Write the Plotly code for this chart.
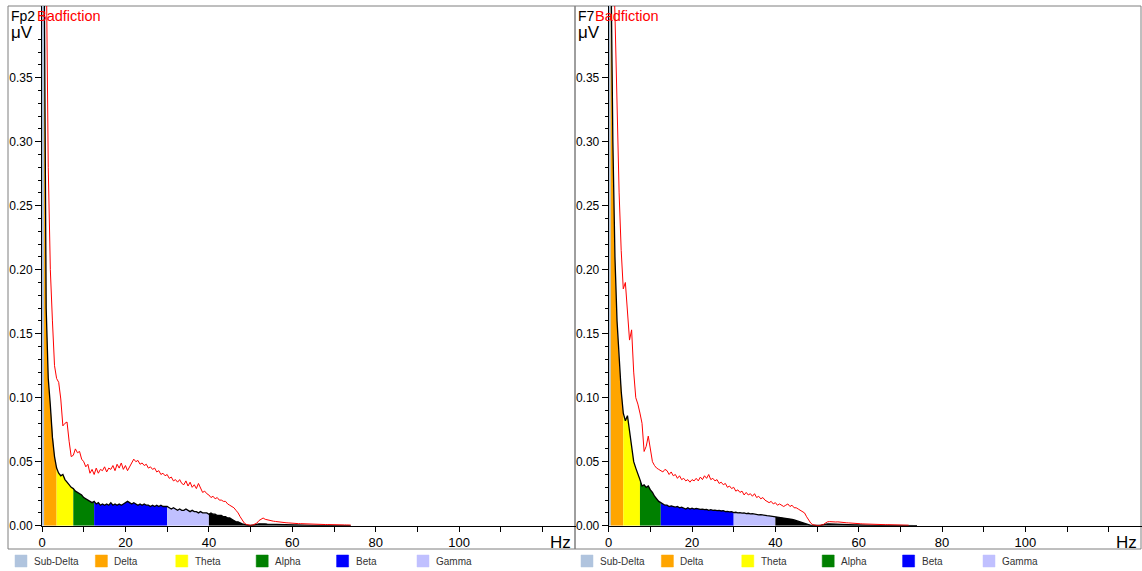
import plotly.graph_objects as go

# ---------------- data ----------------
FREQ_STEP_HZ = 0.5
N_BINS = 149                      # 0 .. 74 Hz
FREQ_HZ = [i * FREQ_STEP_HZ for i in range(N_BINS)]

CHANNELS = ["Fp2", "F7"]
COMPARE_LABEL = "Badfiction"

# spectrum of the recording (black outline, band-coloured fill), µV
PSD_FP2 = [
    0.45, 0.45, 0.17, 0.115, 0.094, 0.069, 0.054, 0.045, 0.041, 0.039,
    0.040, 0.036, 0.034, 0.032, 0.030, 0.029, 0.027, 0.026, 0.025, 0.024,
    0.022, 0.021, 0.020, 0.019, 0.018, 0.019, 0.017, 0.018, 0.016, 0.017,
    0.016, 0.017, 0.016, 0.018, 0.016, 0.017, 0.016, 0.017, 0.016, 0.017,
    0.018, 0.019, 0.018, 0.017, 0.018, 0.017, 0.016, 0.017, 0.016, 0.017,
    0.016, 0.016, 0.015, 0.016, 0.015, 0.016, 0.015, 0.016, 0.015, 0.015,
    0.015, 0.014, 0.013, 0.014, 0.013, 0.012, 0.013, 0.012, 0.012, 0.013,
    0.012, 0.011, 0.012, 0.011, 0.011, 0.010, 0.011, 0.010, 0.010, 0.010,
    0.009, 0.010, 0.009, 0.009, 0.008, 0.008, 0.008, 0.007, 0.007, 0.006,
    0.006, 0.005, 0.004, 0.003, 0.003, 0.002, 0.0015, 0.001, 0.0005, 0.0003,
    0.0003, 0.0004, 0.0006, 0.0010, 0.0015, 0.0016, 0.0015, 0.0014, 0.0013, 0.0012,
    0.0012, 0.0011, 0.0010, 0.0010, 0.0009, 0.0009, 0.0008, 0.0008, 0.0007, 0.0007,
    0.0006, 0.0006, 0.0006, 0.0005, 0.0005, 0.0005, 0.0004, 0.0004, 0.0004, 0.0004,
    0.0003, 0.0003, 0.0003, 0.0003, 0.0003, 0.0002, 0.0002, 0.0002, 0.0002, 0.0002,
    0.0002, 0.0001, 0.0001, 0.0001, 0.0001, 0.0001, 0.0001, 0.0001, 0.0001,
]

# comparison spectrum "Badfiction" (red line), µV
BAD_FP2 = [
    0.45, 0.45, 0.45, 0.28, 0.20, 0.16, 0.125, 0.115, 0.112, 0.099,
    0.078, 0.080, 0.081, 0.066, 0.054, 0.055, 0.060, 0.057, 0.058, 0.052,
    0.050, 0.046, 0.048, 0.041, 0.044, 0.040, 0.045, 0.041, 0.044, 0.043,
    0.046, 0.042, 0.045, 0.044, 0.047, 0.043, 0.048, 0.045, 0.049, 0.044,
    0.047, 0.043, 0.046, 0.048, 0.052, 0.050, 0.051, 0.048, 0.049, 0.047,
    0.048, 0.045, 0.046, 0.044, 0.045, 0.042, 0.043, 0.040, 0.041, 0.039,
    0.040, 0.037, 0.038, 0.035, 0.036, 0.034, 0.036, 0.033, 0.032, 0.035,
    0.031, 0.034, 0.030, 0.032, 0.029, 0.033, 0.030, 0.026, 0.027, 0.025,
    0.024, 0.022, 0.023, 0.021, 0.022, 0.020, 0.020, 0.019, 0.019, 0.017,
    0.016, 0.015, 0.014, 0.012, 0.010, 0.007, 0.004, 0.002, 0.001, 0.0005,
    0.0003, 0.0005, 0.001, 0.002, 0.004, 0.005, 0.006, 0.005, 0.0045, 0.004,
    0.0038, 0.0035, 0.0033, 0.003, 0.0028, 0.0026, 0.0025, 0.0023, 0.0022, 0.002,
    0.0019, 0.0018, 0.0017, 0.0016, 0.0016, 0.0015, 0.0014, 0.0013, 0.0013, 0.0012,
    0.0012, 0.0011, 0.0011, 0.001, 0.001, 0.001, 0.0009, 0.0009, 0.0008, 0.0008,
    0.0008, 0.0007, 0.0007, 0.0007, 0.0006, 0.0006, 0.0006, 0.0005, 0.0005,
]

PSD_F7 = [
    0.45, 0.45, 0.30, 0.21, 0.16, 0.13, 0.105, 0.088, 0.082, 0.086,
    0.075, 0.062, 0.050, 0.045, 0.041, 0.036, 0.031, 0.032, 0.030, 0.031,
    0.028, 0.026, 0.023, 0.021, 0.019, 0.018, 0.017, 0.016, 0.016, 0.015,
    0.0155, 0.015, 0.0145, 0.015, 0.014, 0.0145, 0.014, 0.013, 0.014, 0.013,
    0.0137, 0.013, 0.0135, 0.013, 0.0128, 0.013, 0.0125, 0.0128, 0.012, 0.0125,
    0.012, 0.0122, 0.0118, 0.012, 0.0115, 0.0118, 0.011, 0.0112, 0.0108, 0.011,
    0.0102, 0.0105, 0.010, 0.0102, 0.0098, 0.010, 0.0095, 0.0097, 0.0092, 0.0094,
    0.009, 0.0088, 0.0085, 0.0087, 0.0082, 0.008, 0.0078, 0.0076, 0.0074, 0.0072,
    0.007, 0.0068, 0.0066, 0.0064, 0.0062, 0.006, 0.0058, 0.0055, 0.005, 0.0045,
    0.004, 0.0035, 0.003, 0.0022, 0.0015, 0.001, 0.0005, 0.0003, 0.0002, 0.0002,
    0.0002, 0.0003, 0.0005, 0.0008, 0.0012, 0.0014, 0.0014, 0.0013, 0.0013, 0.0012,
    0.0011, 0.0011, 0.001, 0.001, 0.0009, 0.0009, 0.0008, 0.0008, 0.0007, 0.0007,
    0.0006, 0.0006, 0.0005, 0.0005, 0.0005, 0.0004, 0.0004, 0.0004, 0.0003, 0.0003,
    0.0003, 0.0003, 0.0002, 0.0002, 0.0002, 0.0002, 0.0002, 0.0002, 0.0001, 0.0001,
    0.0001, 0.0001, 0.0001, 0.0001, 0.0001, 0.0001, 0.0001, 0.0001, 0.0001,
]

BAD_F7 = [
    0.45, 0.45, 0.45, 0.40, 0.33, 0.26, 0.215, 0.185, 0.19, 0.167,
    0.145, 0.153, 0.12, 0.10, 0.095, 0.088, 0.08, 0.058, 0.062, 0.07,
    0.06, 0.05, 0.047, 0.045, 0.044, 0.043, 0.042, 0.044, 0.043, 0.040,
    0.042, 0.039, 0.040, 0.037, 0.039, 0.036, 0.037, 0.035, 0.036, 0.034,
    0.036, 0.035, 0.037, 0.035, 0.038, 0.036, 0.039, 0.037, 0.040, 0.036,
    0.037, 0.035, 0.036, 0.033, 0.034, 0.032, 0.033, 0.030, 0.031, 0.029,
    0.030, 0.027, 0.028, 0.026, 0.027, 0.024, 0.026, 0.024, 0.025, 0.023,
    0.025, 0.022, 0.023, 0.021, 0.022, 0.020, 0.019, 0.018, 0.019, 0.017,
    0.018, 0.016, 0.017, 0.016, 0.015, 0.016, 0.017, 0.015, 0.016, 0.014,
    0.014, 0.013, 0.012, 0.011, 0.010, 0.007, 0.004, 0.002, 0.0008, 0.0003,
    0.0002, 0.0002, 0.0003, 0.0008, 0.002, 0.003, 0.0032, 0.003, 0.0031, 0.0029,
    0.003, 0.0027, 0.0026, 0.0024, 0.0023, 0.0022, 0.002, 0.0019, 0.0018, 0.0017,
    0.0016, 0.0015, 0.0014, 0.0013, 0.0013, 0.0012, 0.0011, 0.0011, 0.001, 0.001,
    0.0009, 0.0009, 0.0008, 0.0008, 0.0008, 0.0007, 0.0007, 0.0006, 0.0006, 0.0006,
    0.0005, 0.0005, 0.0005, 0.0004, 0.0004, None, None, None, None,
]

BAND_NAMES = ["Sub-Delta", "Delta", "Theta", "Alpha", "Beta", "Gamma"]
BAND_EDGES_HZ = [0, 0.5, 3.5, 7.5, 12.5, 30, 40]
BAND_COLORS = ["#b0c4de", "#ffa500", "#ffff00", "#008000", "#0000ff", "#c0c0ff"]
ABOVE_BANDS_COLOR = "#000000"

X_MAX_HZ = 128
X_TICKS = [0, 20, 40, 60, 80, 100]
X_MINOR_TICKS = [10, 30, 50, 70, 90, 110, 120]
Y_MAX = 0.406
Y_TICKS = [0.00, 0.05, 0.10, 0.15, 0.20, 0.25, 0.30, 0.35]

SERIES = [(PSD_FP2, BAD_FP2), (PSD_F7, BAD_F7)]

# ---------------- layout geometry (pixels) ----------------
W, H = 1142, 571
FONT = "Liberation Sans, Arial, sans-serif"


def px(x):
    return x / W


def py(y):
    return 1 - y / H


PANELS = [
    dict(frame=(8, 575), axis_x=(42, 576), label_x=10, legend_x=15),
    dict(frame=(575, 1141), axis_x=(608.7, 1142), label_x=577, legend_x=581),
]
PLOT_TOP, PLOT_BOTTOM = 6, 525.7
FRAME_TOP, FRAME_BOTTOM = 6, 549

fig = go.Figure()
shapes = []
annotations = []

for p, (chan, (psd, bad)) in enumerate(zip(CHANNELS, SERIES)):
    xa = "x" if p == 0 else "x2"
    ya = "y" if p == 0 else "y2"
    valid = [(f, v) for f, v in zip(FREQ_HZ, psd) if v is not None]
    # band fills
    edges = BAND_EDGES_HZ + [FREQ_HZ[-1]]
    colors = BAND_COLORS + [ABOVE_BANDS_COLOR]
    for b in range(len(edges) - 1):
        lo, hi = edges[b], edges[b + 1]
        seg = [(f, v) for f, v in valid if lo <= f <= hi]
        fig.add_trace(go.Scatter(
            x=[s[0] for s in seg], y=[s[1] for s in seg],
            mode="lines", fill="tozeroy", fillcolor=colors[b],
            line=dict(width=0, color=colors[b]),
            xaxis=xa, yaxis=ya, showlegend=False, hoverinfo="skip"))
    # black outline
    fig.add_trace(go.Scatter(
        x=FREQ_HZ, y=psd, mode="lines",
        line=dict(color="black", width=1.3),
        xaxis=xa, yaxis=ya, showlegend=False))
    # red comparison
    fig.add_trace(go.Scatter(
        x=FREQ_HZ, y=bad, mode="lines",
        line=dict(color="#ff0000", width=1),
        xaxis=xa, yaxis=ya, showlegend=False, connectgaps=False))

    P = PANELS[p]
    # outer frame
    shapes.append(dict(type="rect", xref="paper", yref="paper",
                       x0=px(P["frame"][0]), x1=px(P["frame"][1]),
                       y0=py(FRAME_BOTTOM), y1=py(FRAME_TOP),
                       line=dict(color="#7f7f7f", width=1), layer="below"))
    # titles
    annotations.append(dict(text=chan, xref="paper", yref="paper",
                            x=px(P["label_x"] - 1), y=py(16), xanchor="left", yanchor="middle",
                            showarrow=False, font=dict(family=FONT, size=14, color="black")))
    annotations.append(dict(text=COMPARE_LABEL, xref="paper", yref="paper",
                            x=px(P["label_x"] + (25 if p == 0 else 16)), y=py(16),
                            xanchor="left", yanchor="middle",
                            showarrow=False, font=dict(family=FONT, size=14.5, color="#ff0000")))
    annotations.append(dict(text="μV", xref="paper", yref="paper",
                            x=px(P["label_x"] - 1), y=py(33), xanchor="left", yanchor="middle",
                            showarrow=False, font=dict(family=FONT, size=17, color="black")))
    annotations.append(dict(text="Hz", xref="paper", yref="paper",
                            x=px(P["frame"][1] - 2), y=py(542), xanchor="right", yanchor="middle",
                            showarrow=False, font=dict(family=FONT, size=17, color="black")))
    # legend
    for i, (name, col) in enumerate(zip(BAND_NAMES, BAND_COLORS)):
        x0 = P["legend_x"] + i * 80.4
        shapes.append(dict(type="rect", xref="paper", yref="paper",
                           x0=px(x0), x1=px(x0 + 12), y0=py(567), y1=py(555),
                           fillcolor=col, line=dict(color=col, width=0.5)))
        annotations.append(dict(text=name, xref="paper", yref="paper",
                                x=px(x0 + 17), y=py(561.5), xanchor="left", yanchor="middle",
                                showarrow=False,
                                font=dict(family=FONT, size=10, color="#333333")))

axis_common_x = dict(
    range=[0, X_MAX_HZ], showline=True, linecolor="black", linewidth=1,
    ticks="outside", tickvals=X_TICKS, ticklen=5, tickcolor="black",
    minor=dict(tickvals=X_MINOR_TICKS, ticks="outside", ticklen=5, tickcolor="black"),
    showgrid=False, zeroline=False, fixedrange=True, automargin=False,
    tickfont=dict(family=FONT, size=13, color="black"),
)
y_minor = [k / 100 for k in range(1, 39) if k % 5]
axis_common_y = dict(
    range=[0, Y_MAX], showline=True, linecolor="black", linewidth=1,
    ticks="outside", tickvals=Y_TICKS, tickformat=".2f", ticklen=6, tickcolor="black",
    minor=dict(tickvals=y_minor, ticks="outside", ticklen=3, tickcolor="black"),
    showgrid=False, zeroline=False, fixedrange=True, automargin=False,
    tickfont=dict(family=FONT, size=12, color="black"),
    domain=[py(PLOT_BOTTOM), py(PLOT_TOP)],
)

fig.update_layout(
    width=W, height=H, autosize=False,
    margin=dict(l=0, r=0, t=0, b=0, pad=0),
    paper_bgcolor="white", plot_bgcolor="white",
    showlegend=False,
    xaxis=dict(axis_common_x, domain=[px(PANELS[0]["axis_x"][0]), px(PANELS[0]["axis_x"][1])],
               anchor="y"),
    yaxis=dict(axis_common_y, anchor="x"),
    xaxis2=dict(axis_common_x, domain=[px(PANELS[1]["axis_x"][0]), px(PANELS[1]["axis_x"][1])],
                anchor="y2"),
    yaxis2=dict(axis_common_y, anchor="x2"),
    shapes=shapes,
    annotations=annotations,
)

fig.write_html("out.html")
